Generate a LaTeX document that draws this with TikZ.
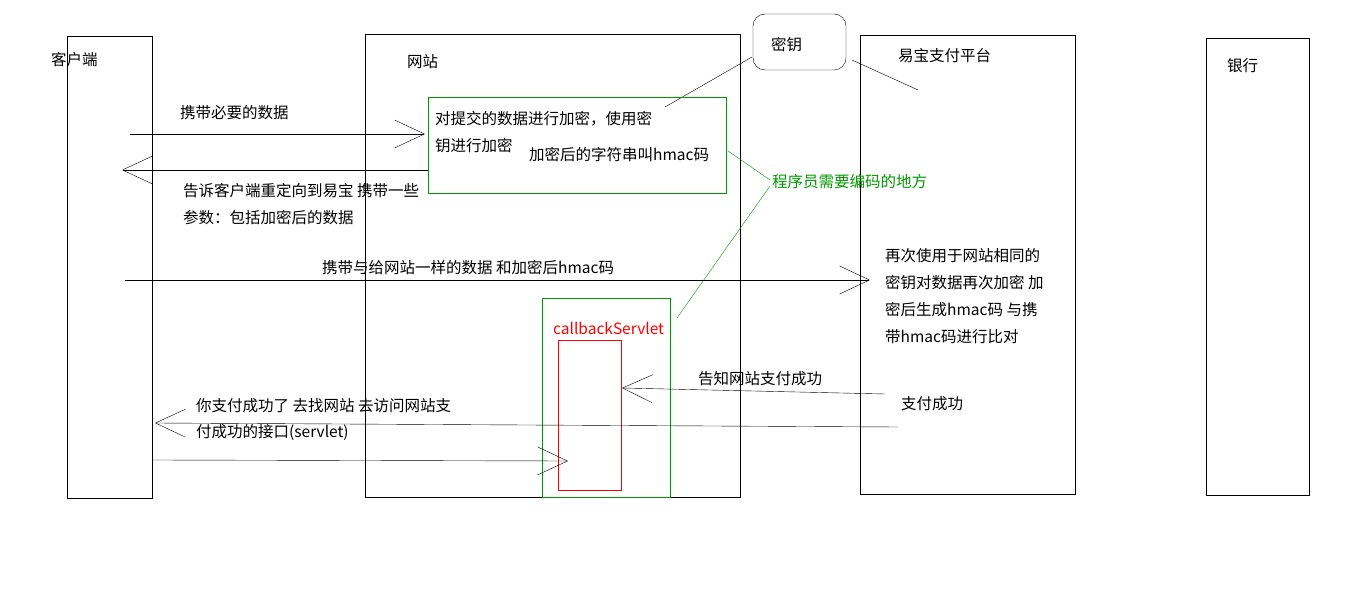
\documentclass[tikz,border=0pt]{standalone}
\usepackage{fontspec}
\setmainfont{Noto Sans CJK SC}
\usetikzlibrary{arrows.meta}
\tikzset{
  lane/.style={draw, thin},
  msg/.style={-{Straight Barb[length=30pt,width=28pt]}, thin},
  lbl/.style={anchor=west, inner sep=0pt, font=\fontsize{15.5}{17}\selectfont},
}
\begin{document}
\begin{tikzpicture}[x=1pt, y=-1pt]
            \useasboundingbox[fill=white] (0,0) rectangle (1350,609);
            % lanes
            \draw[lane] (67,36) rectangle (152,498);
            \draw[lane] (365,34) rectangle (740,497);
            \draw[lane] (860,35) rectangle (1075,494);
            \draw[lane] (1206,38) rectangle (1309,495);
            \node[lbl] (client) at (51,60) {客户端};
            \node[lbl] (site) at (407,62) {网站};
            \node[lbl] (yeepay) at (898,56) {易宝支付平台};
            \node[lbl] (bank) at (1227,66) {银行};
            % key
            \draw[lane, rounded corners=12pt] (753,14) rectangle (846,70);
            \node[lbl] (key) at (771,45) {密钥};
            \coordinate (k1) at (752,57); \coordinate (k2) at (665,107);
            \draw (k1) -- (k2);
            \coordinate (k3) at (852,60); \coordinate (k4) at (918,90);
            \draw (k3) -- (k4);
            % encryption box
            \draw[green!60!black] (428,97) rectangle (726,193);
            \node[lbl] (enc1) at (435,119) {对提交的数据进行加密，使用密};
            \node[lbl] (enc2) at (435,146) {钥进行加密};
            \node[lbl] (enc3) at (529,155) {加密后的字符串叫hmac码};
            % programmer note
            \node[lbl, text=green!60!black] (note) at (772,182) {程序员需要编码的地方};
            \coordinate (n1) at (770,180); \coordinate (n2) at (728,151);
            \coordinate (n3) at (770,186); \coordinate (n4) at (677,318);
            \draw[green!60!black] (n1) -- (n2);
            \draw[green!60!black] (n3) -- (n4);
            % callback
            \draw[green!60!black] (542,298) rectangle (670,497);
            \node[lbl, text=red] (cb) at (553,328) {callbackServlet};
            \draw[red] (558,340) rectangle (621,490);
            % messages
            \coordinate (a1) at (130,134); \coordinate (a2) at (425,134);
            \draw[msg] (a1) -- (a2);
            \node[lbl] (m1) at (180,113) {携带必要的数据};
            \coordinate (b1) at (428,170); \coordinate (b2) at (122,170);
            \draw[msg] (b1) -- (b2);
            \node[lbl] (m2) at (183,191) {告诉客户端重定向到易宝 携带一些};
            \node[lbl] (m3) at (183,218) {参数：包括加密后的数据};
            \coordinate (c1) at (125,280); \coordinate (c2) at (870,280);
            \draw[msg] (c1) -- (c2);
            \node[lbl] (m4) at (322,268) {携带与给网站一样的数据 和加密后hmac码};
            \node[lbl] (v1) at (885,256) {再次使用于网站相同的};
            \node[lbl] (v2) at (885,283) {密钥对数据再次加密 加};
            \node[lbl] (v3) at (885,310) {密后生成hmac码 与携};
            \node[lbl] (v4) at (885,337) {带hmac码进行比对};
            \coordinate (d1) at (885,394); \coordinate (d2) at (622,388);
            \draw[msg] (d1) -- (d2);
            \node[lbl] (m5) at (698,379) {告知网站支付成功};
            \node[lbl] (ok) at (901,404) {支付成功};
            \coordinate (e1) at (898,427); \coordinate (e2) at (155,423);
            \draw[msg] (e1) -- (e2);
            \node[lbl] (m6) at (196,406) {你支付成功了 去找网站 去访问网站支};
            \node[lbl] (m7) at (196,432) {付成功的接口(servlet)};
            \coordinate (f1) at (152,460); \coordinate (f2) at (568,461);
            \draw[msg] (f1) -- (f2);
\end{tikzpicture}
\end{document}
